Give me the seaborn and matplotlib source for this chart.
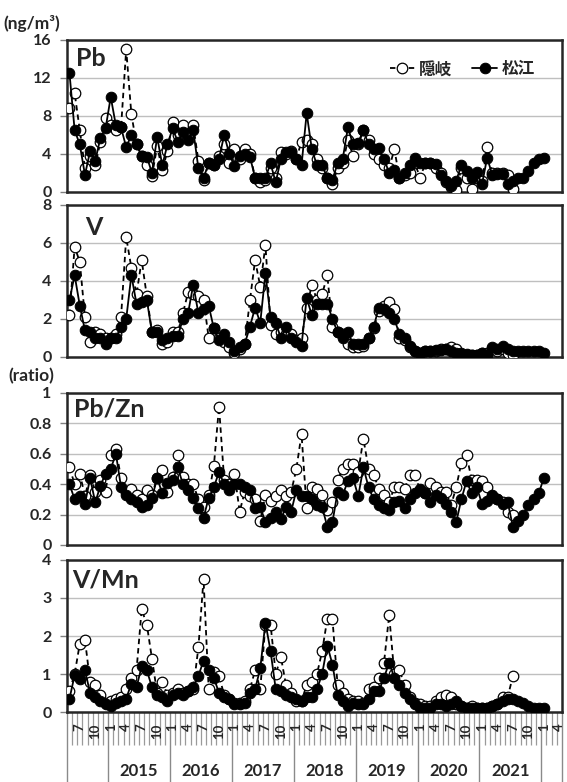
import numpy as np
import pandas as pd
import seaborn as sns
import matplotlib.pyplot as plt

# monthly categories, May 2014 .. Apr 2022
months = pd.date_range('2014-05-01', '2022-04-01', freq='MS')
year_labels = [2015, 2016, 2017, 2018, 2019, 2020, 2021]
site_labels = ['隠岐', '松江']

# Pb (ng/m3)
pb_matsue = [12.5, 6.5, 5.0, 1.8, 4.3, 3.3, 5.7, 6.7, 10.0, 7.0,
             6.8, 4.7, 6.0, 5.0, 3.8, 3.7, 2.0, 5.8, 2.8, 5.0,
             6.7, 5.3, 6.3, 5.5, 6.5, 2.5, 1.5, 3.0, 2.8, 3.5,
             6.0, 4.0, 2.7, 3.8, 4.0, 3.7, 1.5, 1.5, 1.5, 3.0,
             1.0, 3.5, 4.2, 4.2, 3.5, 2.8, 8.3, 4.5, 2.8, 2.8,
             1.5, 1.3, 3.0, 3.5, 6.8, 5.0, 5.2, 6.5, 5.0, 4.5,
             4.6, 3.5, 2.0, 2.3, 1.5, 2.0, 2.8, 3.6, 3.0, 3.0,
             3.0, 2.9, 1.8, 1.2, 0.6, 1.2, 2.8, 2.2, 1.5, 2.1,
             0.8, 3.6, 1.8, 1.9, 1.9, 0.8, 1.2, 1.5, 1.5, 2.2,
             3.0, 3.5, 3.6]
pb_oki = [8.8, 10.4, 6.5, 2.5, 3.8, 2.8, 5.3, 7.8, 7.0, 6.5,
          6.8, 15.0, 8.2, 5.0, 3.8, 2.8, 1.7, 4.8, 2.3, 4.3,
          7.4, 6.0, 7.0, 6.0, 7.0, 3.3, 1.3, 3.0, 2.8, 3.8,
          5.0, 3.0, 4.5, 3.5, 4.5, 4.0, 1.5, 1.0, 1.3, 2.5,
          1.5, 4.2, 4.0, 4.3, 3.5, 5.3, 5.5, 5.0, 3.5, 2.5,
          1.5, 0.8, 2.5, 3.0, 5.5, 3.8, 5.0, 6.5, 5.5, 4.0,
          3.5, 2.8, 2.5, 4.5, 1.5, 1.8, 2.0, 3.0, 1.5, 3.0,
          3.0, 2.5, 2.0, 1.0, 0.5, 0.2, 2.5, 1.5, 0.3, 1.5,
          1.2, 4.7, 2.0, 2.0, 2.0, 1.8, 0.3]

# V (ng/m3)
v_matsue = [3.0, 4.3, 2.7, 1.4, 1.3, 1.0, 1.0, 0.7, 1.0, 1.0,
            1.6, 2.0, 4.3, 2.8, 2.9, 3.0, 1.3, 1.3, 0.9, 1.0,
            1.1, 1.1, 2.0, 2.3, 3.8, 2.3, 2.5, 2.7, 1.5, 0.9,
            1.2, 0.8, 0.3, 0.5, 0.7, 1.6, 2.6, 1.8, 4.4, 2.1,
            1.8, 1.0, 1.6, 1.0, 0.8, 0.6, 3.1, 2.2, 2.8, 2.8,
            2.8, 2.0, 1.3, 1.0, 1.3, 0.7, 0.7, 0.7, 1.0, 1.6,
            2.6, 2.5, 2.3, 2.0, 1.2, 1.0, 0.6, 0.3, 0.2, 0.3,
            0.3, 0.35, 0.35, 0.4, 0.3, 0.2, 0.2, 0.15, 0.1, 0.1,
            0.2, 0.1, 0.5, 0.4, 0.6, 0.4, 0.3, 0.3, 0.3, 0.3,
            0.3, 0.3, 0.2]
v_oki = [2.2, 5.8, 5.0, 2.1, 0.8, 1.3, 1.2, 1.0, 1.0, 1.2,
         2.1, 6.3, 4.7, 3.3, 5.1, 3.2, 1.3, 1.4, 0.7, 0.8,
         1.3, 1.3, 2.3, 3.4, 3.3, 3.2, 3.0, 1.0, 1.5, 1.0,
         0.8, 0.5, 0.2, 0.4, 0.7, 3.0, 5.1, 3.7, 5.9, 1.7,
         1.2, 1.3, 1.2, 1.2, 0.9, 1.0, 2.6, 3.8, 3.0, 3.3,
         4.3, 1.6, 1.3, 1.2, 0.7, 0.5, 0.5, 0.6, 1.0, 1.5,
         2.4, 2.7, 2.9, 2.5, 1.0, 0.9, 0.5, 0.3, 0.2, 0.3,
         0.3, 0.3, 0.4, 0.4, 0.5, 0.4, 0.1, 0.1, 0.1, 0.1,
         0.2, 0.2, 0.4, 0.3, 0.4, 0.2, 0.1]

# Pb/Zn ratio
pbzn_matsue = [0.40, 0.30, 0.32, 0.27, 0.44, 0.28, 0.39, 0.47, 0.50, 0.60,
               0.38, 0.33, 0.30, 0.28, 0.25, 0.26, 0.31, 0.44, 0.34, 0.41,
               0.43, 0.51, 0.40, 0.36, 0.31, 0.24, 0.18, 0.31, 0.38, 0.48,
               0.40, 0.36, 0.40, 0.40, 0.38, 0.36, 0.24, 0.25, 0.15, 0.18,
               0.22, 0.17, 0.25, 0.22, 0.36, 0.32, 0.32, 0.30, 0.26, 0.25,
               0.12, 0.15, 0.35, 0.33, 0.42, 0.44, 0.32, 0.51, 0.38, 0.30,
               0.26, 0.24, 0.23, 0.28, 0.29, 0.24, 0.30, 0.34, 0.37, 0.34,
               0.28, 0.33, 0.31, 0.27, 0.22, 0.15, 0.30, 0.42, 0.34, 0.38,
               0.27, 0.29, 0.33, 0.30, 0.27, 0.28, 0.12, 0.16, 0.20, 0.26,
               0.30, 0.34, 0.44]
pbzn_oki = [0.51, 0.40, 0.47, 0.32, 0.46, 0.35, 0.43, 0.35, 0.59, 0.63,
            0.44, 0.35, 0.37, 0.33, 0.30, 0.36, 0.33, 0.44, 0.49, 0.35,
            0.45, 0.59, 0.45, 0.40, 0.40, 0.30, 0.25, 0.33, 0.52, 0.91,
            0.43, 0.40, 0.47, 0.22, 0.35, 0.32, 0.30, 0.16, 0.33, 0.29,
            0.32, 0.36, 0.32, 0.35, 0.50, 0.73, 0.24, 0.38, 0.37, 0.33,
            0.23, 0.28, 0.43, 0.50, 0.53, 0.53, 0.48, 0.70, 0.50, 0.46,
            0.37, 0.33, 0.28, 0.38, 0.38, 0.37, 0.46, 0.46, 0.36, 0.34,
            0.41, 0.38, 0.35, 0.35, 0.26, 0.38, 0.54, 0.59, 0.43, 0.43,
            0.42, 0.38, 0.32, 0.30, 0.28, 0.22, 0.20]

# V/Mn ratio
vmn_matsue = [0.35, 0.97, 0.88, 1.10, 0.50, 0.40, 0.30, 0.20, 0.15, 0.25,
              0.30, 0.35, 0.75, 0.65, 1.20, 1.10, 0.65, 0.45, 0.40, 0.30,
              0.45, 0.50, 0.45, 0.55, 0.65, 0.95, 1.35, 1.10, 0.90, 0.50,
              0.40, 0.35, 0.20, 0.20, 0.25, 0.50, 0.60, 1.15, 2.35, 1.60,
              0.60, 0.55, 0.45, 0.40, 0.35, 0.30, 0.40, 0.40, 0.60, 1.00,
              1.75, 1.25, 0.45, 0.30, 0.15, 0.25, 0.20, 0.20, 0.35, 0.55,
              0.55, 0.90, 1.30, 0.90, 0.70, 0.50, 0.35, 0.20, 0.10, 0.10,
              0.10, 0.20, 0.20, 0.15, 0.20, 0.30, 0.15, 0.10, 0.10, 0.10,
              0.10, 0.10, 0.15, 0.20, 0.28, 0.35, 0.35, 0.30, 0.25, 0.15,
              0.10, 0.10, 0.10]
vmn_oki = [0.55, 1.00, 1.80, 1.90, 0.80, 0.70, 0.45, 0.25, 0.30, 0.35,
           0.40, 0.60, 0.90, 1.10, 2.70, 2.30, 1.40, 0.50, 0.80, 0.45,
           0.50, 0.60, 0.50, 0.55, 0.60, 1.70, 3.50, 0.60, 1.05, 0.95,
           0.45, 0.35, 0.25, 0.25, 0.30, 0.60, 1.10, 0.60, 2.30, 2.30,
           1.00, 1.45, 0.70, 0.50, 0.30, 0.30, 0.70, 0.80, 1.00, 1.60,
           2.45, 2.45, 0.70, 0.50, 0.35, 0.30, 0.30, 0.25, 0.60, 0.65,
           0.90, 1.30, 2.55, 1.00, 1.10, 0.70, 0.40, 0.25, 0.20, 0.15,
           0.15, 0.30, 0.40, 0.45, 0.40, 0.20, 0.15, 0.10, 0.15, 0.10,
           0.10, 0.10, 0.15, 0.20, 0.40, 0.40, 0.95]

panels = [
    ('Pb', pb_oki, pb_matsue, [0, 4, 8, 12, 16], ['0', '4', '8', '12', '16'], (0.018, 0.955)),
    ('V', v_oki, v_matsue, [0, 2, 4, 6, 8], ['0', '2', '4', '6', '8'], (0.036, 0.93)),
    ('Pb/Zn', pbzn_oki, pbzn_matsue, [0, 0.2, 0.4, 0.6, 0.8, 1.0],
     ['0', '0.2', '0.4', '0.6', '0.8', '1'], (0.014, 0.97)),
    ('V/Mn', vmn_oki, vmn_matsue, [0, 1, 2, 3, 4], ['0', '1', '2', '3', '4'], (0.010, 0.945)),
]

sns.set_theme(style='white')
plt.rcParams['font.family'] = ['Lato', 'Noto Sans CJK JP', 'DejaVu Sans']
plt.rcParams['font.weight'] = 'bold'

fig = plt.figure(figsize=(5.67, 7.82), dpi=100)
bottoms = [0.7545, 0.5435, 0.3031, 0.0895]
axes = [fig.add_axes([0.118, b, 0.873, 0.1944]) for b in bottoms]

GRID = '#bfbfbf'
MS = 7.6
for ax, (name, oki, matsue, yt, ytl, tpos) in zip(axes, panels):
    sns.lineplot(x=np.arange(len(oki)), y=oki, ax=ax, color='black', lw=1.3,
                 linestyle=(0, (3.0, 2.2)), marker='o', markersize=MS,
                 markerfacecolor='white', markeredgecolor='black', markeredgewidth=0.9,
                 label=site_labels[0], zorder=3)
    sns.lineplot(x=np.arange(len(matsue)), y=matsue, ax=ax, color='black', lw=1.3,
                 marker='o', markersize=MS, markerfacecolor='black',
                 markeredgecolor='black', label=site_labels[1], zorder=4)
    ax.set_xlim(-0.5, len(months) - 0.5)
    ax.set_ylim(yt[0], yt[-1])
    ax.set_yticks(yt)
    ax.set_yticklabels(ytl, fontsize=11.5, fontweight='bold')
    ax.yaxis.grid(True, color=GRID, lw=1.0)
    ax.set_axisbelow(True)
    ax.tick_params(axis='y', which='major', left=True, length=5, width=1,
                   color='#808080', pad=6)
    for sp in ax.spines.values():
        sp.set_color('#262626')
        sp.set_linewidth(1.8)
    ax.set_xlabel('')
    ax.set_ylabel('')
    ax.text(tpos[0], tpos[1], name, transform=ax.transAxes, fontsize=18,
            fontweight='bold', va='top', ha='left')
    if ax is axes[0]:
        ax.legend(loc='upper right', bbox_to_anchor=(0.975, 0.965), frameon=False,
                  ncol=2, handlelength=1.5, handletextpad=0.25, columnspacing=1.2,
                  markerscale=1.0,
                  prop={'family': ['Noto Sans CJK JP'], 'weight': 'bold', 'size': 12})
    else:
        ax.get_legend().remove()
    ax.set_xticks([])

# bottom category axis (months inside years)
ax = axes[-1]
year_starts = [i for i, m in enumerate(months) if m.month == 1]
ax.set_xticks(np.arange(-0.5, len(months), 1.0), minor=True)
ax.set_xticks([-0.5] + [s - 0.5 for s in year_starts] + [len(months) - 0.5])
ax.set_xticklabels([])
ax.tick_params(axis='x', which='minor', bottom=True, length=24, width=0.9,
               color='#9a9a9a', direction='out')
ax.tick_params(axis='x', which='major', bottom=True, length=52, width=1.0,
               color='#8a8a8a', direction='out')
xtr = ax.get_xaxis_transform()
for i, m in enumerate(months):
    if m.month in (1, 4, 7, 10):
        ax.text(i, -0.075, str(m.month), transform=xtr, rotation=90, ha='center',
                va='top', fontsize=9.5, fontweight='bold')
for yr in year_labels:
    idx = [i for i, m in enumerate(months) if m.year == yr]
    ax.text(np.mean(idx), -0.39, str(yr), transform=xtr, ha='center', va='center',
            fontsize=12, fontweight='bold')

fig.text(0.006, 1 - 24 / 782, '(ng/m³)', fontsize=12.5, fontweight='bold', va='center')
fig.text(0.014, 1 - 376 / 782, '(ratio)', fontsize=12.5, fontweight='bold', va='center')

fig.savefig('out.png', dpi=100)
